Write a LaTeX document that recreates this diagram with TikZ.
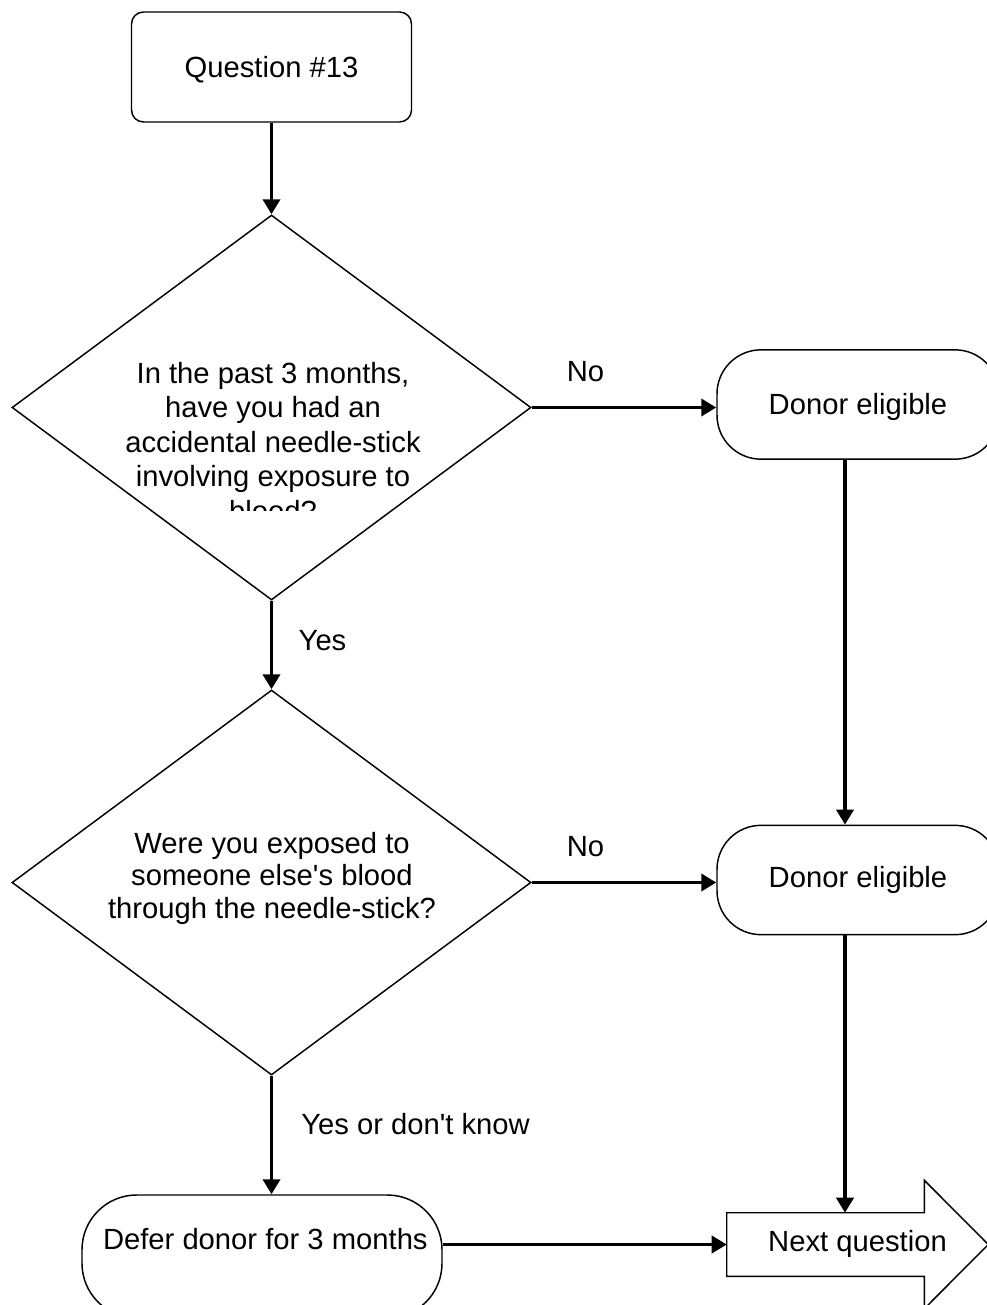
\documentclass[tikz,border=0pt]{standalone}
\usepackage{fontspec}
\setmainfont{Liberation Sans}
\usetikzlibrary{shapes.geometric,arrows.meta,calc}
\begin{document}
\begin{tikzpicture}[x=0.75pt,y=-0.75pt,
  every node/.style={font=\fontsize{21.9}{26}\selectfont},
  outline/.style={draw, line width=1.1pt},
  capbox/.style={inner sep=0pt, text height=15.68pt, text depth=0pt},
  rbox/.style={outline, capbox, rectangle, rounded corners=9pt,
    minimum width=210pt, minimum height=82.5pt},
  term/.style={outline, capbox, rectangle, rounded corners=33pt,
    minimum width=211.5pt, minimum height=82pt},
  decision/.style={outline, diamond, inner sep=0pt,
    minimum width=389.25pt, minimum height=288.75pt},
  lbl/.style={inner sep=0pt},
  flow/.style={line width=2.9pt, -{Triangle[length=11.25pt,width=12.75pt]}}
]
\useasboundingbox (0,0) rectangle (987,1305);
\fill[white] (0,0) rectangle (987,1305);
\clip (0,0) rectangle (987,1305);

% shapes
\node[rbox] (q13) at (271.5,67) {Question \#13};
\node[decision] (d1) at (271.5,407.5) {};
\node[decision] (d2) at (271.5,882.5) {};
\node[term] (de1) at (858,404.5) {Donor eligible};
\node[term, text depth=4.5pt] (de2) at (858,880) {Donor eligible};
\node[term, minimum width=270pt, minimum height=92.25pt, rounded corners=41pt,
      text depth=26.25pt] (defer) at (262,1256.5) {\hspace*{5pt}Defer donor for 3 months};
\node[capbox, text depth=4.5pt, minimum width=195.75pt, minimum height=47.25pt]
      (nq) at (857.5,1244.5) {Next question};
\draw[line width=1.1pt] (nq.south west) -- (nq.north west)
  -- ($(nq.north east)+(-64,0)$) -- ++(0,-32.5) -- (nq.east)
  -- ($(nq.south east)+(-64,32.5)$) -- ++(0,-32.5) -- cycle;

% question texts; the first one is cut off by its text frame
\begin{scope}
  \clip (0,0) rectangle (987,510);
  \node[lbl, anchor=north, align=center, font=\fontsize{21.9}{25.9}\selectfont]
    (d1text) at (273,358.8) {In the past 3 months,\strut\\ have you had an\strut\\
    accidental needle-stick\strut\\ involving exposure to\strut\\ blood?\strut};
\end{scope}
\node[lbl, anchor=north, align=center, font=\fontsize{21.9}{24.4}\selectfont]
  (d2text) at (272,830.2) {Were you exposed to\strut\\
  someone else\textquotesingle s blood\strut\\ through the needle-stick?\strut};

% connector labels
\node[lbl, anchor=base] (no1) at (585.5,381) {No};
\node[lbl, anchor=base] (no2) at (585.5,856) {No};
\node[lbl, anchor=base] (yes1) at (322.5,650) {Yes};
\node[lbl, anchor=base west] (yes2) at (301,1134) {Yes or don\textquotesingle t know};

% connectors
\coordinate (vx) at (845,0);
\draw[flow] (q13.south) -- (d1.north);
\draw[flow] (d1.east) -- (d1.east -| de1.west);
\draw[flow] (d1.south) -- (d2.north);
\draw[flow] (d2.east) -- (d2.east -| de2.west);
\draw[flow] (d2.south) -- (d2.south |- defer.north);
\draw[flow] (de1.south -| vx) -- (de2.north -| vx);
\draw[flow] (de2.south -| vx) -- (nq.north -| vx);
\draw[flow] (nq.west -| defer.east) -- (nq.west);
\end{tikzpicture}
\end{document}
